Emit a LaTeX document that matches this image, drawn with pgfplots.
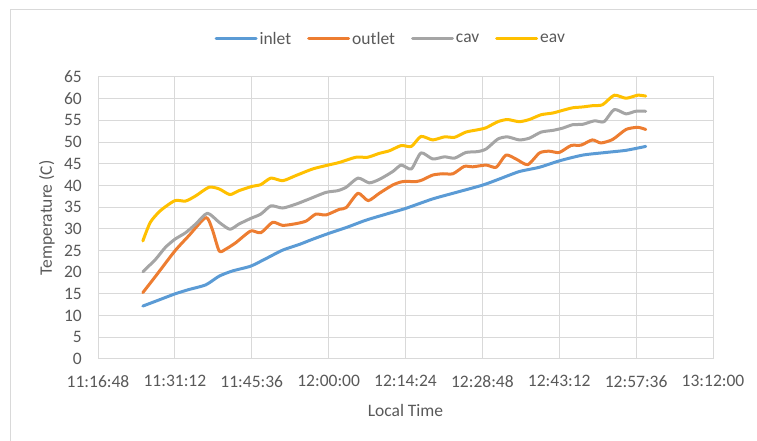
\documentclass[border=0pt]{standalone}
\usepackage{pgfplots}
\pgfplotsset{compat=1.18}
\usepackage{fontspec}
\setmainfont{Carlito}
\definecolor{cinlet}{HTML}{5B9BD5}
\definecolor{coutlet}{HTML}{ED7D31}
\definecolor{ccav}{HTML}{A5A5A5}
\definecolor{ceav}{HTML}{FFC000}
\definecolor{gridc}{HTML}{D9D9D9}
\definecolor{txt}{HTML}{595959}
\begin{document}
\begin{tikzpicture}[font=\fontsize{17.5bp}{21bp}\selectfont]
\path[use as bounding box] (0bp,0bp) rectangle (757bp,441bp);
\draw[gridc,line width=1bp] (10bp,0bp) -- (10bp,431bp) -- (757bp,431bp);
\begin{axis}[
  at={(98bp,82bp)}, anchor=south west,
  scale only axis, width=615bp, height=282bp,
  xmin=0, xmax=115.2, ymin=0, ymax=65,
  xtick={0,14.4,28.8,43.2,57.6,72,86.4,100.8,115.2},
  xticklabels={11:16:48,11:31:12,11:45:36,12:00:00,12:14:24,12:28:48,12:43:12,12:57:36,13:12:00},
  ytick={0,5,...,65},
  /pgf/number format/assume math mode=true,
  grid=major, major grid style={gridc,line width=1bp},
  axis line style={gridc,line width=1bp},
  tick style={draw=none},
  ticklabel style={text=txt,inner sep=0pt},
  xticklabel style={anchor=north,yshift=-16bp},
  yticklabel style={anchor=east,xshift=-16bp},
  xlabel={Local Time}, ylabel={Temperature (C)},
  label style={text=txt},
  xlabel style={at={(axis description cs:0.5,-0.181)},anchor=center},
  ylabel style={at={(axis description cs:-0.083,0.5)},anchor=center,rotate=0},
  legend columns=4,
  legend style={at={(rel axis cs:0.476,1.135)},anchor=center,draw=none,fill=none,
    text=txt,inner sep=0pt,
    /tikz/every even column/.append style={column sep=14bp}},
  legend image code/.code={\draw[#1] (0bp,0bp) -- (40bp,0bp);},
  every axis plot/.append style={line width=3bp,line join=round,line cap=round,smooth,tension=0.4},
]
\addplot[cinlet] coordinates {
(8.4,12.2)(11.4,13.6)(14.4,15.0)(17.0,16.0)(20.2,17.1)(22.7,19.1)(25.2,20.3)(28.6,21.4)
(31.4,23.1)(34.6,25.1)(37.7,26.4)(40.2,27.6)(43.1,28.9)(46.5,30.3)(50.2,32.0)(54.0,33.4)
(57.6,34.7)(62.7,36.9)(67.1,38.4)(72.1,40.1)(75.2,41.5)(78.9,43.2)(82.7,44.2)(86.5,45.7)
(90.8,47.0)(95.1,47.6)(98.9,48.1)(102.6,49.0)};
\addlegendentry{inlet}
\addplot[coutlet] coordinates {
(8.4,15.3)(10.8,19.1)(14.4,24.9)(17.0,28.4)(20.2,32.6)(21.4,29.9)(22.7,24.9)(23.9,25.3)
(25.8,26.8)(28.6,29.5)(30.5,29.1)(32.7,31.5)(34.6,30.8)(37.1,31.2)(39.0,31.8)(40.8,33.4)
(42.7,33.2)(45.2,34.5)(46.5,34.9)(48.7,38.2)(50.6,36.5)(52.7,38.2)(55.2,40.1)(57.1,40.9)
(59.6,40.9)(60.8,41.3)(62.7,42.4)(64.6,42.7)(66.5,42.7)(68.6,44.4)(70.2,44.3)(72.7,44.7)
(74.6,44.2)(76.4,47.0)(78.3,46.1)(80.5,44.8)(82.7,47.5)(84.5,47.9)(86.4,47.6)(88.6,49.2)
(90.5,49.3)(92.6,50.5)(94.2,49.8)(96.4,50.6)(98.9,52.9)(101.1,53.4)(102.6,52.9)};
\addlegendentry{outlet}
\addplot[ccav] coordinates {
(8.4,20.1)(10.8,23.0)(12.6,25.7)(14.4,27.6)(16.4,29.1)(18.3,31.1)(20.5,33.6)(22.7,31.5)
(24.7,29.9)(26.4,31.1)(28.6,32.4)(30.5,33.4)(32.4,35.3)(34.6,34.8)(37.1,35.7)(39.6,36.9)
(42.7,38.4)(44.9,38.8)(46.5,39.6)(48.7,41.7)(50.8,40.6)(52.7,41.4)(55.2,43.2)(56.8,44.7)
(58.7,43.8)(60.5,47.5)(62.7,46.1)(64.9,46.6)(66.8,46.3)(68.9,47.6)(71.1,47.8)(72.7,48.4)
(74.9,50.7)(76.7,51.2)(78.9,50.5)(80.8,50.9)(83.0,52.3)(85.2,52.7)(87.0,53.2)(88.9,54.0)
(90.8,54.1)(93.0,54.9)(94.8,54.7)(96.7,57.5)(98.9,56.5)(100.7,57.1)(102.6,57.1)};
\addlegendentry{cav}
\addplot[ceav] coordinates {
(8.4,27.2)(9.8,31.5)(11.7,34.2)(14.4,36.5)(16.4,36.4)(18.3,37.6)(20.8,39.6)(22.7,39.2)
(24.7,37.9)(26.4,38.8)(28.9,39.8)(30.5,40.2)(32.4,41.7)(34.6,41.1)(37.1,42.3)(40.2,43.8)
(43.1,44.7)(45.2,45.3)(48.3,46.5)(50.5,46.5)(52.7,47.4)(54.6,48.0)(56.8,49.2)(58.7,49.0)
(60.5,51.3)(62.7,50.5)(64.9,51.2)(66.8,51.1)(68.9,52.3)(71.4,52.9)(72.7,53.3)(74.9,54.7)
(76.7,55.2)(78.9,54.7)(80.8,55.2)(83.0,56.3)(85.2,56.7)(87.0,57.3)(88.9,57.9)(90.8,58.1)
(92.7,58.4)(94.5,58.6)(96.7,60.8)(98.9,60.1)(101.1,60.8)(102.6,60.6)};
\addlegendentry{eav}
\end{axis}
\end{tikzpicture}
\end{document}
